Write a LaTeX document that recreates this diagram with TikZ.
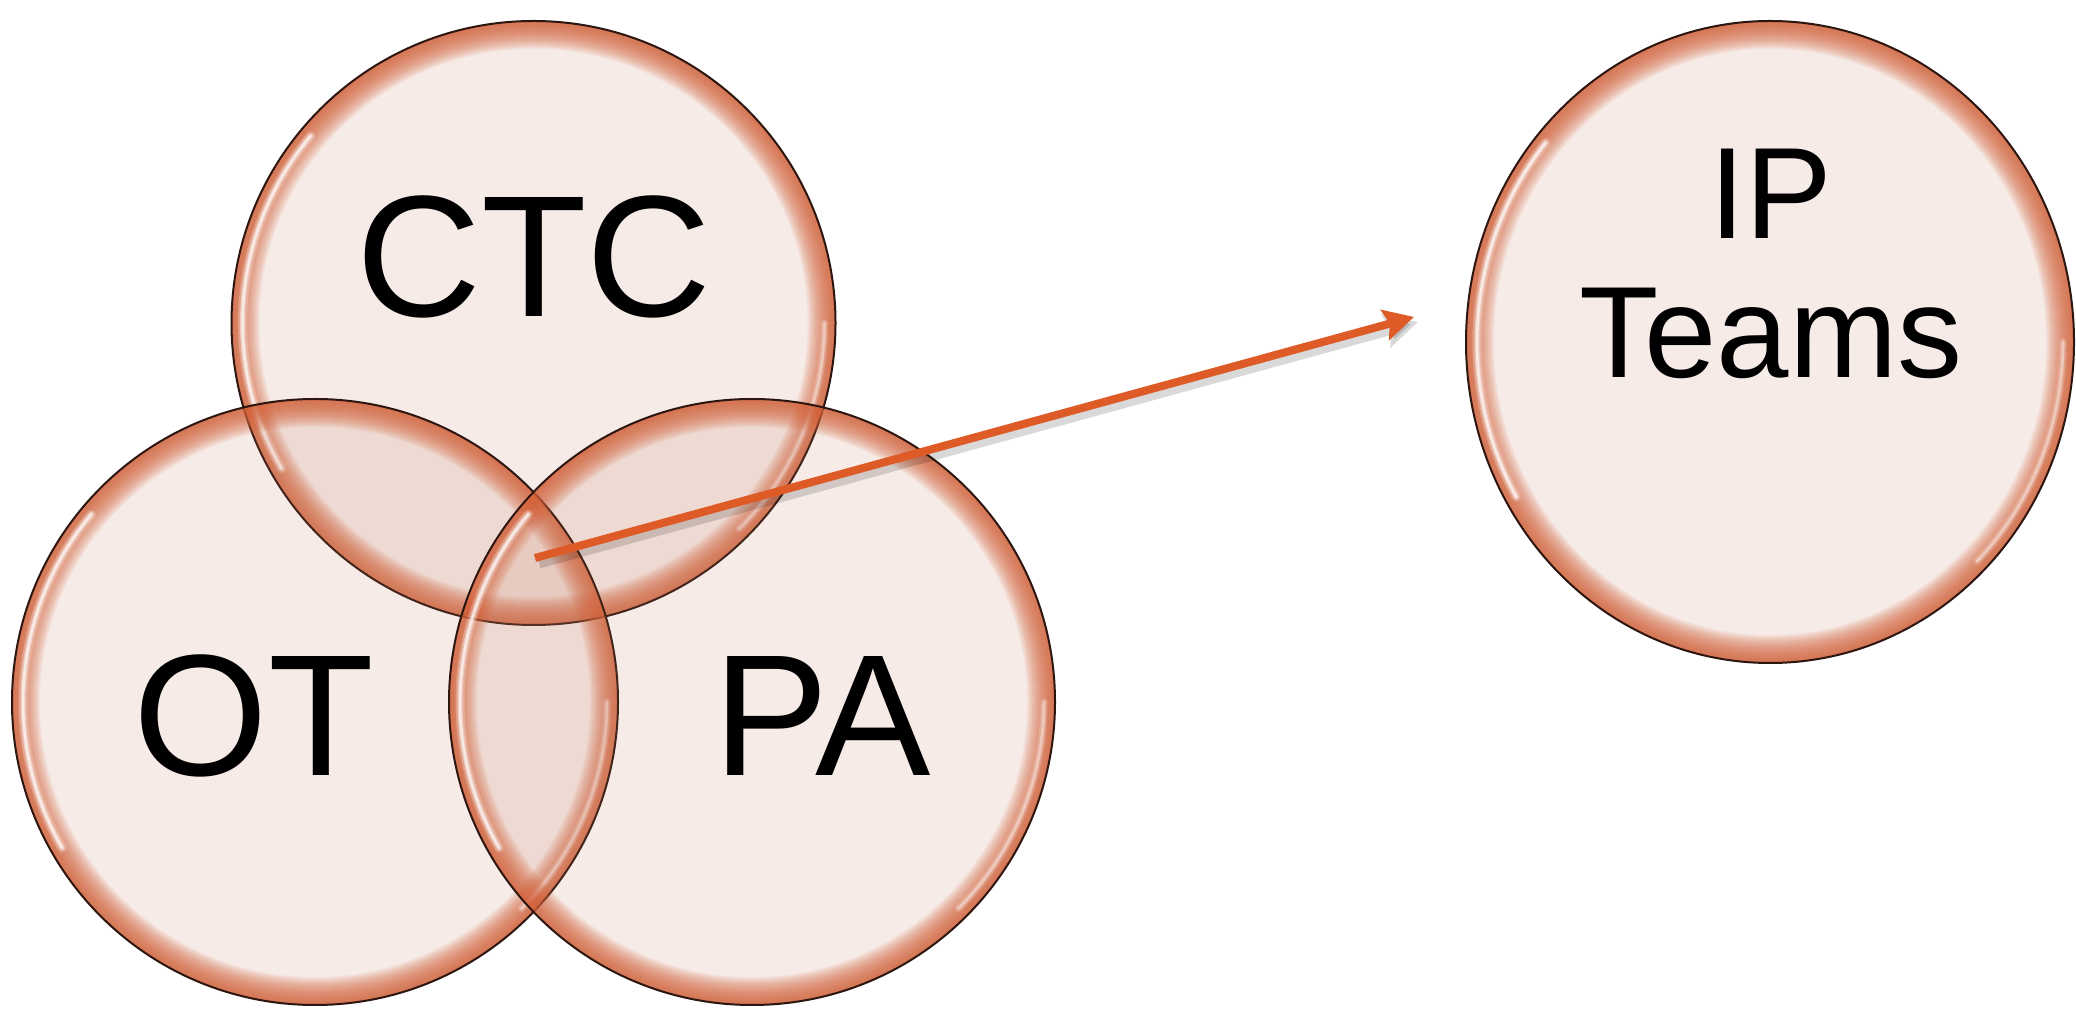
\documentclass[tikz,border=0pt]{standalone}
\usepackage{fontspec}
\setmainfont{Liberation Sans}
\usetikzlibrary{shapes.geometric,arrows.meta}

\definecolor{discfill}{RGB}{195,122,95}
\definecolor{discrim}{RGB}{214,100,60}
\definecolor{discline}{RGB}{45,22,15}
\definecolor{arroworange}{RGB}{222,90,38}

\tikzset{
  disc/.style n args={2}{ellipse, minimum width=2*#1, minimum height=2*#2, inner sep=0pt,
    fill=discfill, fill opacity=0.15, draw=discline, draw opacity=1, line width=2pt,
    path picture={
      \foreach \w in {2,4,...,56}
        \draw[discrim, opacity=0.06, line width=\w pt] (path picture bounding box.center) ellipse [x radius=#1, y radius=#2];
      \pgfmathsetmacro\hx{#1-11}
      \pgfmathsetmacro\hy{#2-11}
      \foreach \lw/\op in {9/0.25, 5/0.4, 2.5/0.6}
        \draw[white, opacity=\op, line width=\lw pt, line cap=round] (path picture bounding box.center) ++(140:\hx pt and \hy pt) arc[start angle=140, end angle=210, x radius=\hx, y radius=\hy];
      \foreach \lw/\op in {7/0.2, 3/0.4}
        \draw[white, opacity=\op, line width=\lw pt, line cap=round] (path picture bounding box.center) ++(-45:\hx pt and \hy pt) arc[start angle=-45, end angle=0, x radius=\hx, y radius=\hy];
    }},
  biglabel/.style={anchor=base, inner sep=0pt, font=\fontsize{173}{173}\selectfont},
  smalllabel/.style={align=center, inner sep=0pt, font=\fontsize{130}{139}\selectfont},
}

\begin{document}
\begin{tikzpicture}[x=1pt, y=1pt]

\useasboundingbox (0,0) rectangle (2076,1009);
\fill[white] (0,0) rectangle (2076,1009);

\node[disc={302}{302}] (ctc) at (533.5,686) {};
\node[disc={303}{303}] (ot) at (315,307) {};
\node[disc={303}{303}] (pa) at (752,307) {};
\node[disc={304}{321}] (ip) at (1770,667) {};

\coordinate (core) at (535,451);
\coordinate (tip) at (1414,692);

% arrow with a soft shadow
\draw[black, opacity=0.15, line width=11pt, -{Stealth[length=33pt, width=34pt, inset=5pt]}] ([shift={(4,-5)}]core) -- ([shift={(4,-5)}]tip);
\draw[arroworange, line width=8pt, -{Stealth[length=30pt, width=31pt, inset=5pt]}] (core) -- (tip);

\node[biglabel] (ctclabel) at (534,692) {CTC};
\node[biglabel] (otlabel) at (254,233) {OT};
\node[biglabel] (palabel) at (822,233) {PA};
\node[smalllabel] (iplabel) at (1771,745.5) {IP\\Teams};
\end{tikzpicture}
\end{document}
